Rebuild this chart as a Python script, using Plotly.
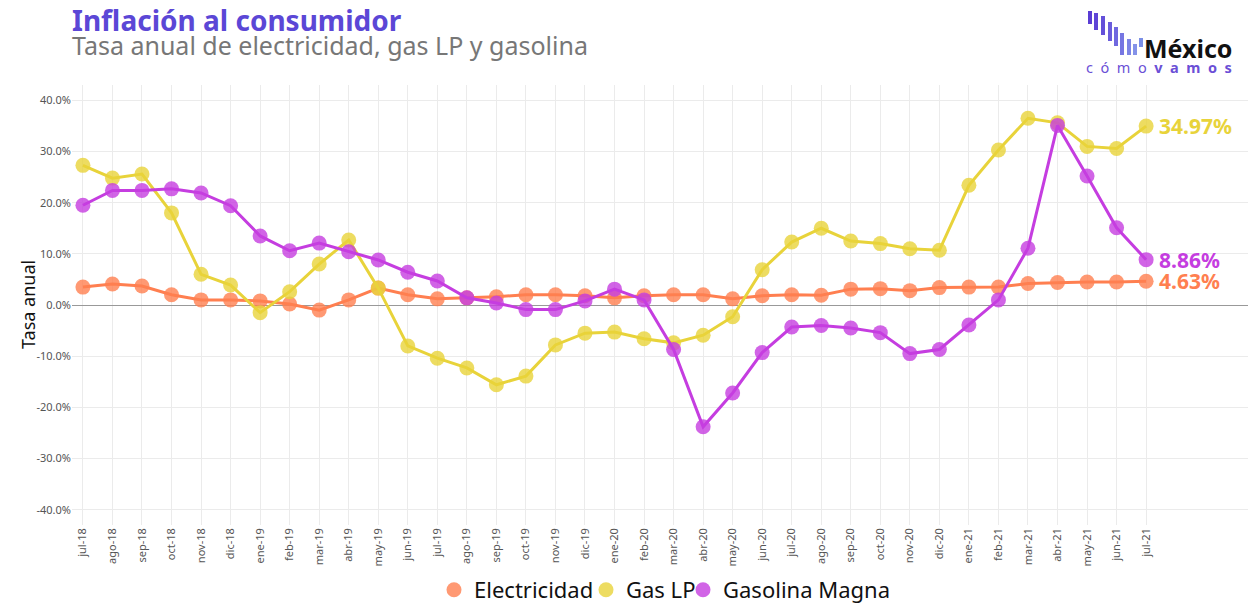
import plotly.graph_objects as go

meses = ["jul-18","ago-18","sep-18","oct-18","nov-18","dic-18",
         "ene-19","feb-19","mar-19","abr-19","may-19","jun-19","jul-19","ago-19","sep-19","oct-19","nov-19","dic-19",
         "ene-20","feb-20","mar-20","abr-20","may-20","jun-20","jul-20","ago-20","sep-20","oct-20","nov-20","dic-20",
         "ene-21","feb-21","mar-21","abr-21","may-21","jun-21","jul-21"]

electricidad = [3.5, 4.1, 3.7, 2.0, 1.0, 1.0, 0.8, 0.2, -1.0, 1.0, 3.3, 2.0, 1.2, 1.4, 1.6, 2.0, 2.0, 1.8,
                1.4, 1.8, 2.0, 2.0, 1.2, 1.8, 2.0, 1.9, 3.1, 3.2, 2.8, 3.4, 3.5, 3.5, 4.2, 4.4, 4.5, 4.5, 4.63]

gas_lp = [27.3, 24.8, 25.6, 18.0, 6.0, 3.9, -1.5, 2.6, 8.0, 12.7, 3.3, -8.0, -10.4, -12.3, -15.6, -13.9, -7.8, -5.5,
          -5.3, -6.6, -7.4, -5.9, -2.3, 6.9, 12.3, 15.0, 12.5, 12.0, 11.0, 10.7, 23.4, 30.3, 36.5, 35.6, 31.0, 30.6, 34.97]

gasolina = [19.5, 22.4, 22.4, 22.7, 21.9, 19.4, 13.5, 10.6, 12.1, 10.4, 8.8, 6.4, 4.7, 1.4, 0.4, -0.9, -0.9, 0.8,
            3.1, 1.0, -8.7, -23.8, -17.2, -9.3, -4.3, -4.0, -4.5, -5.4, -9.5, -8.7, -3.9, 1.0, 11.1, 35.1, 25.2, 15.1, 8.86]

series = [
    ("Electricidad", electricidad, "#ff7f50", "rgba(255,127,80,0.8)"),
    ("Gas LP", gas_lp, "#e8d33a", "rgba(232,211,58,0.8)"),
    ("Gasolina Magna", gasolina, "#c53de0", "rgba(197,61,224,0.8)"),
]

yticks = [-40, -30, -20, -10, 0, 10, 20, 30, 40]
yticktext = [f"{v:.1f}%" for v in yticks]

FONT = "Noto Sans"
W, H = 1248, 604
ML, MR, MT, MB = 72, 0, 85, 79

fig = go.Figure()

for name, vals, col, mcol in series:
    fig.add_trace(go.Scatter(
        x=meses, y=vals, mode="lines+markers", name=name, showlegend=False,
        line=dict(color=col, width=3),
        marker=dict(color=mcol, size=15),
    ))
legend_ids = ["legend", "legend2", "legend3"]
for (name, vals, col, mcol), lid in zip(series, legend_ids):
    fig.add_trace(go.Scatter(
        x=[None], y=[None], mode="markers", name=name, showlegend=True, legend=lid,
        marker=dict(color=mcol, size=15),
    ))

# end labels
for name, vals, col, mcol in series:
    fig.add_annotation(x=meses[-1], y=vals[-1], text=f"<b>{vals[-1]:.2f}%</b>",
                       showarrow=False, xanchor="left", xshift=11,
                       font=dict(family=FONT, size=21, color=col))

def leg(xpx):
    return dict(orientation="h", x=xpx / W, xanchor="left", xref="container",
                yref="container", y=(H - 590) / H, yanchor="middle",
                font=dict(family=FONT, size=22, color="#111"),
                itemwidth=30, bgcolor="rgba(0,0,0,0)")

fig.update_layout(
    width=W, height=H,
    paper_bgcolor="white", plot_bgcolor="white",
    margin=dict(l=ML, r=MR, t=MT, b=MB, autoexpand=False),
    font=dict(family=FONT, color="#555"),
    legend=leg(434), legend2=leg(586), legend3=leg(683),
    xaxis=dict(type="category", range=[-0.37, 39.45], showgrid=True, gridcolor="#ebebeb",
               tickangle=-90, tickfont=dict(size=11, color="#555"), ticks="", showline=False,
               zeroline=False, automargin=False),
    yaxis=dict(range=[-43, 43], tickvals=yticks, ticktext=yticktext,
               showgrid=True, gridcolor="#ebebeb", zeroline=True, zerolinecolor="#999",
               zerolinewidth=1, tickfont=dict(size=11, color="#555"), automargin=False),
)

pw, ph = W - ML - MR, H - MT - MB

def ax(x):
    return (x - ML) / pw

def ay(y):
    return (H - MB - y) / ph

fig.add_annotation(xref="paper", yref="paper", x=ax(28), y=ay(305), textangle=-90,
                   xanchor="center", yanchor="middle", text="Tasa anual", showarrow=False,
                   font=dict(family=FONT, size=18, color="#111"))

fig.add_annotation(xref="paper", yref="paper", x=ax(70), y=ay(-1), xanchor="left", yanchor="top",
                   text="<b>Inflación al consumidor</b>", showarrow=False,
                   font=dict(family=FONT, size=28, color="#5b47d6"))
fig.add_annotation(xref="paper", yref="paper", x=ax(70), y=ay(45), xanchor="left", yanchor="middle",
                   text="Tasa anual de electricidad, gas LP y gasolina", showarrow=False,
                   font=dict(family=FONT, size=25, color="#777"))

# logo
bars = [(1088, 11, 24), (1094, 13, 30), (1101, 16, 35), (1108, 22, 41), (1114, 27, 46),
        (1120, 33, 55), (1127, 39, 55), (1133, 44, 55), (1139, 38, 47)]
cols = ["#5a3dd4", "#5f45d6", "#6450d9", "#6a5cdc", "#7068df", "#7676e2", "#7d84e5", "#8492e8", "#7a8ee6"]
for (bx, top, bot), c in zip(bars, cols):
    fig.add_shape(type="rect", xref="paper", yref="paper",
                  x0=ax(bx), x1=ax(bx + 4), y0=ay(bot), y1=ay(top),
                  fillcolor=c, line=dict(width=0))
fig.add_annotation(xref="paper", yref="paper", x=ax(1142), y=ay(48),
                   xanchor="left", yanchor="middle", text="<b>México</b>", showarrow=False,
                   font=dict(family=FONT, size=25, color="#111"))
sp = "\u00a0\u00a0"
fig.add_annotation(xref="paper", yref="paper", x=ax(1159), y=ay(67),
                   xanchor="center", yanchor="middle",
                   text=sp.join("cómo") + sp + "<b>" + sp.join("vamos") + "</b>", showarrow=False,
                   font=dict(family=FONT, size=14.5, color="#6b4fd6"))

fig.write_html("out.html", config={"displayModeBar": False},
               post_script="document.body.style.margin='0px';")
